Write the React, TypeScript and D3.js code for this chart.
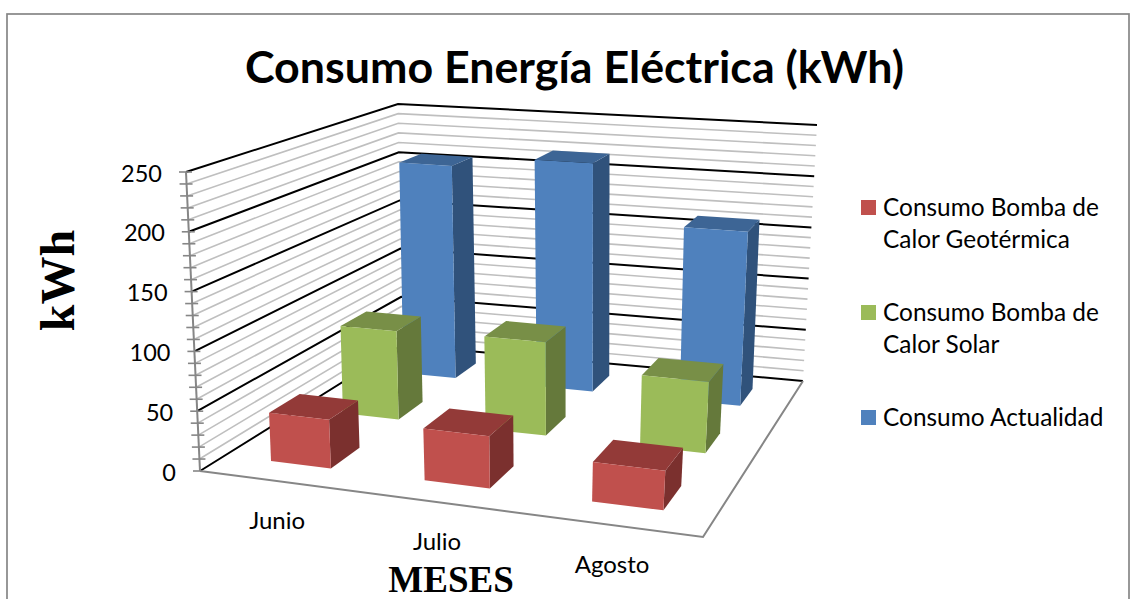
import React from "react";
import * as d3 from "d3";

const categories = ["Junio", "Julio", "Agosto"];
const seriesNames = ["Consumo Bomba de Calor Geotérmica", "Consumo Bomba de Calor Solar", "Consumo Actualidad"];
const geotermica = [41, 43, 32];
const solar = [80, 83, 62];
const actualidad = [207, 218, 163];
const valueTicks = d3.range(0, 251, 10);
const axisLabels = [0, 50, 100, 150, 200, 250];

const legendLines = [["Consumo Bomba de", "Calor Geotérmica"], ["Consumo Bomba de", "Calor Solar"], ["Consumo Actualidad"]];
const seriesValues = [geotermica, solar, actualidad];

type Pt = [number, number];

// Perspective map of the unit square onto a quadrilateral (a = u0v0, b = u1v0, c = u1v1, d = u0v1).
function quadMap(a: Pt, b: Pt, c: Pt, d: Pt) {
  const dx1 = b[0] - c[0], dy1 = b[1] - c[1];
  const dx2 = d[0] - c[0], dy2 = d[1] - c[1];
  const sx = a[0] - b[0] + c[0] - d[0], sy = a[1] - b[1] + c[1] - d[1];
  const det = dx1 * dy2 - dx2 * dy1;
  const g = (sx * dy2 - dx2 * sy) / det;
  const h = (dx1 * sy - sx * dy1) / det;
  const m = [b[0] - a[0] + g * b[0], d[0] - a[0] + h * d[0], a[0], b[1] - a[1] + g * b[1], d[1] - a[1] + h * d[1], a[1]];
  return (u: number, v: number): Pt => {
    const w = g * u + h * v + 1;
    return [(m[0] * u + m[1] * v + m[2]) / w, (m[3] * u + m[4] * v + m[5]) / w];
  };
}

// Corners of the plot box on screen, at the floor and at the top of the value axis.
const floor = quadMap([200, 471], [703, 537], [803, 381], [402, 345]);
const ceiling = quadMap([186, 172], [726, 218], [817, 125], [398, 104]);

const valueScale = d3.scaleLinear().domain([0, 250]).range([0, 1]);
const xBand = d3.scaleBand<string>().domain(categories).range([0.005, 1.005]).paddingInner(0.6).paddingOuter(0.3);
const zBand = d3.scaleBand<string>().domain(seriesNames).range([0, 1]).paddingInner(0.6).paddingOuter(0.3);

function project(u: number, v: number, value: number): Pt {
  const t = valueScale(value);
  const f = floor(u, v);
  const c = ceiling(u, v);
  return [f[0] + (c[0] - f[0]) * t, f[1] + (c[1] - f[1]) * t];
}

const poly = d3.line<Pt>().curve(d3.curveLinearClosed);
const segment = d3.line<Pt>();

const palette = [
  { front: "#C0504D", side: "#7B302E", top: "#933A38" },
  { front: "#9BBB59", side: "#65793B", top: "#788F47" },
  { front: "#4F81BD", side: "#30527B", top: "#3D6595" },
];

const sans = "Lato, Carlito, sans-serif";
const serif = "'Liberation Serif', 'Times New Roman', serif";

function Bar({ cat, series, value, colors }: { cat: string; series: string; value: number; colors: typeof palette[0] }) {
  const u0 = xBand(cat)!, u1 = u0 + xBand.bandwidth();
  const v0 = zBand(series)!, v1 = v0 + zBand.bandwidth();
  return (
    <g>
      <path fill={colors.side} d={poly([project(u1, v0, 0), project(u1, v1, 0), project(u1, v1, value), project(u1, v0, value)])!} />
      <path fill={colors.top} d={poly([project(u0, v0, value), project(u1, v0, value), project(u1, v1, value), project(u0, v1, value)])!} />
      <path fill={colors.front} d={poly([project(u0, v0, 0), project(u1, v0, 0), project(u1, v0, value), project(u0, v0, value)])!} />
    </g>
  );
}

export default function App() {
  const backToFront = d3.range(seriesNames.length).reverse();
  return (
    <svg width={1131} height={599} style={{ position: "absolute", left: 0, top: 0 }}>
      <rect x={0} y={0} width={1131} height={599} fill="#fff" />
      <rect x={7} y={14} width={1122} height={620} fill="#fff" stroke="#868686" strokeWidth={1.7} />

      <text x={574.5} y={83} textAnchor="middle" fontFamily={sans} fontWeight={700} fontSize={44.75} fill="#000">
        Consumo Energía Eléctrica (kWh)
      </text>

      {/* Walls: gridlines run along the left wall, then across the back wall */}
      {valueTicks.map((t) => {
        const major = t % 50 === 0;
        return (
          <path
            key={t}
            fill="none"
            stroke={major ? "#000" : "#BFBFBF"}
            strokeWidth={major ? 2 : 1.6}
            d={segment([project(0, 0, t), project(0, 1, t), project(1, 1, t)])!}
          />
        );
      })}

      {/* Floor edges */}
      <path fill="none" stroke="#868686" strokeWidth={2} d={segment([project(0, 0, 0), project(1, 0, 0), project(1, 1, 0)])!} />

      {/* Value axis */}
      <path fill="none" stroke="#868686" strokeWidth={2} d={segment([project(0, 0, 0), project(0, 0, 250)])!} />
      {valueTicks.map((t) => {
        const [x, y] = project(0, 0, t);
        return <path key={t} stroke="#868686" strokeWidth={1.6} d={segment([[x - 7, y], [x + (t === 0 ? 0 : 6), y]])!} />;
      })}
      {axisLabels.map((t) => {
        const [x, y] = project(0, 0, t);
        return (
          <text key={t} x={x - 24} y={y + 9.5} textAnchor="end" fontFamily={sans} fontSize={23.5} fill="#000">
            {t}
          </text>
        );
      })}

      {/* Bars, farthest series first */}
      {backToFront.map((s) => (
        <g key={s}>
          {categories.map((c, i) => (
            <Bar key={c} cat={c} series={seriesNames[s]} value={seriesValues[s][i]} colors={palette[s]} />
          ))}
        </g>
      ))}

      {/* Category labels hang below the front floor edge */}
      {categories.map((c) => {
        const [x, y] = project(xBand(c)! + xBand.bandwidth() / 2, 0, 0);
        return (
          <text key={c} x={x} y={y + 48} textAnchor="middle" fontFamily={sans} fontSize={24} fill="#000">
            {c}
          </text>
        );
      })}

      <text x={451} y={592} textAnchor="middle" fontFamily={serif} fontWeight={700} fontSize={37} fill="#000">
        MESES
      </text>
      <text transform="translate(74,280.5) rotate(-90)" textAnchor="middle" fontFamily={serif} fontWeight={700} fontSize={48} fill="#000">
        kWh
      </text>

      {/* Legend */}
      {legendLines.map((lines, i) => {
        const rowY = [200, 305, 410][i];
        return (
          <g key={i}>
            <rect x={861} y={rowY} width={15} height={15} fill={palette[i].front} />
            {lines.map((line, j) => (
              <text key={j} x={883} y={rowY + 16 + j * 32} fontFamily={sans} fontSize={24.4} fill="#000">
                {line}
              </text>
            ))}
          </g>
        );
      })}
    </svg>
  );
}
